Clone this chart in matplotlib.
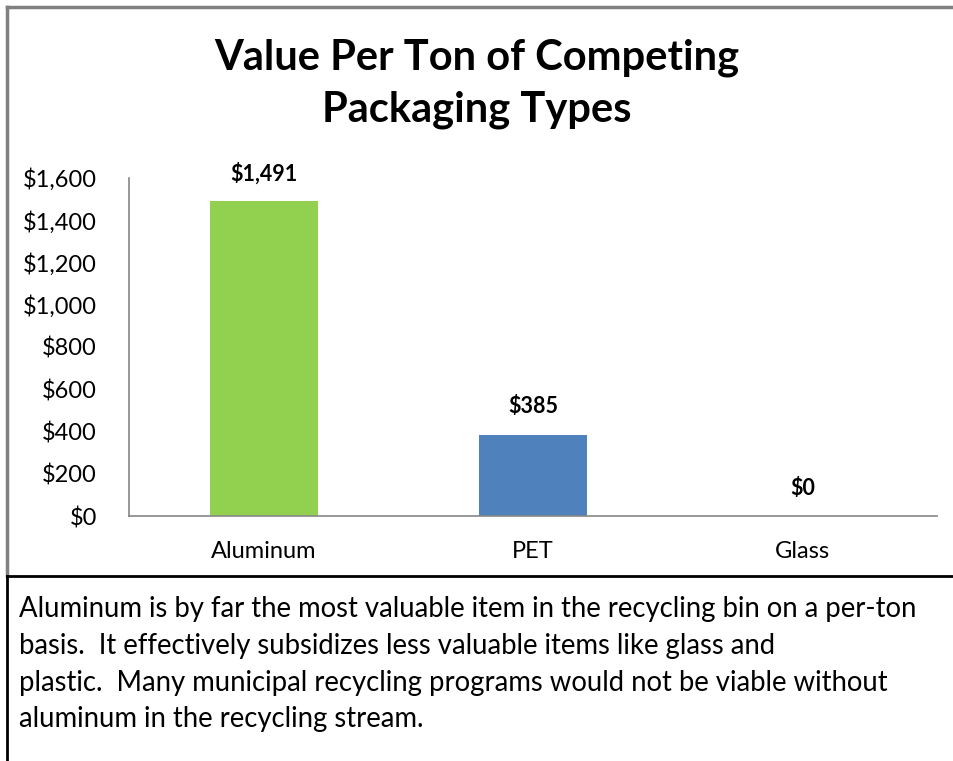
import matplotlib.pyplot as plt
from matplotlib.lines import Line2D

# data
categories = ['Aluminum', 'PET', 'Glass']
values = [1491, 385, 0]
labels = ['$1,491', '$385', '$0']
colors = ['#92D050', '#4F81BD', '#4F81BD']
yticks = [0, 200, 400, 600, 800, 1000, 1200, 1400, 1600]

title = 'Value Per Ton of Competing\nPackaging Types'
caption = [
    'Aluminum is by far the most valuable item in the recycling bin on a per-ton',
    'basis.  It effectively subsidizes less valuable items like glass and',
    'plastic.  Many municipal recycling programs would not be viable without',
    'aluminum in the recycling stream.',
]

plt.rcParams['font.family'] = ['Lato', 'DejaVu Sans']

W, H = 954, 761
fig = plt.figure(figsize=(W / 100, H / 100), dpi=100)

# axes placed in pixel terms
x0, x1, ytop, ybot = 129, 937, 178, 516
ax = fig.add_axes([x0 / W, 1 - ybot / H, (x1 - x0) / W, (ybot - ytop) / H])

ax.bar(range(len(categories)), values, width=0.4, color=colors)
for i, (v, lab) in enumerate(zip(values, labels)):
    ax.annotate(lab, (i, v), xytext=(0, 20), textcoords='offset points',
                ha='center', va='center', fontsize=15.5, fontweight='bold')

ax.set_xlim(-0.5, 2.5)
ax.set_ylim(0, 1600)
ax.set_yticks(yticks)
ax.set_yticklabels(['${:,}'.format(t) for t in yticks], fontsize=17)
ax.set_xticks(range(len(categories)))
ax.set_xticklabels(categories, fontsize=17)
ax.tick_params(axis='y', length=0, pad=23)
ax.tick_params(axis='x', length=0, pad=18)
for s in ['top', 'right']:
    ax.spines[s].set_visible(False)
for s in ['left', 'bottom']:
    ax.spines[s].set_color('#868686')
    ax.spines[s].set_linewidth(1.2)

fig.text(0.5, 1 - 84 / H, title, ha='center', va='center', fontsize=30,
         fontweight='bold', linespacing=1.45)

# borders
gray = '#808080'
fig.add_artist(Line2D([7 / W, 1], [1 - 7 / H, 1 - 7 / H], color=gray, lw=2.5))
fig.add_artist(Line2D([7 / W, 7 / W], [1 - 7 / H, 1 - 576 / H], color=gray, lw=2.5))
fig.add_artist(Line2D([7 / W, 1], [1 - 576 / H, 1 - 576 / H], color='black', lw=2))
fig.add_artist(Line2D([7 / W, 7 / W], [1 - 576 / H, 0], color='black', lw=2))

for k, line in enumerate(caption):
    fig.text(19 / W, 1 - (609.5 + 36.5 * k) / H, line, ha='left', va='center',
             fontsize=19.8)

fig.savefig('out.png', dpi=100)
